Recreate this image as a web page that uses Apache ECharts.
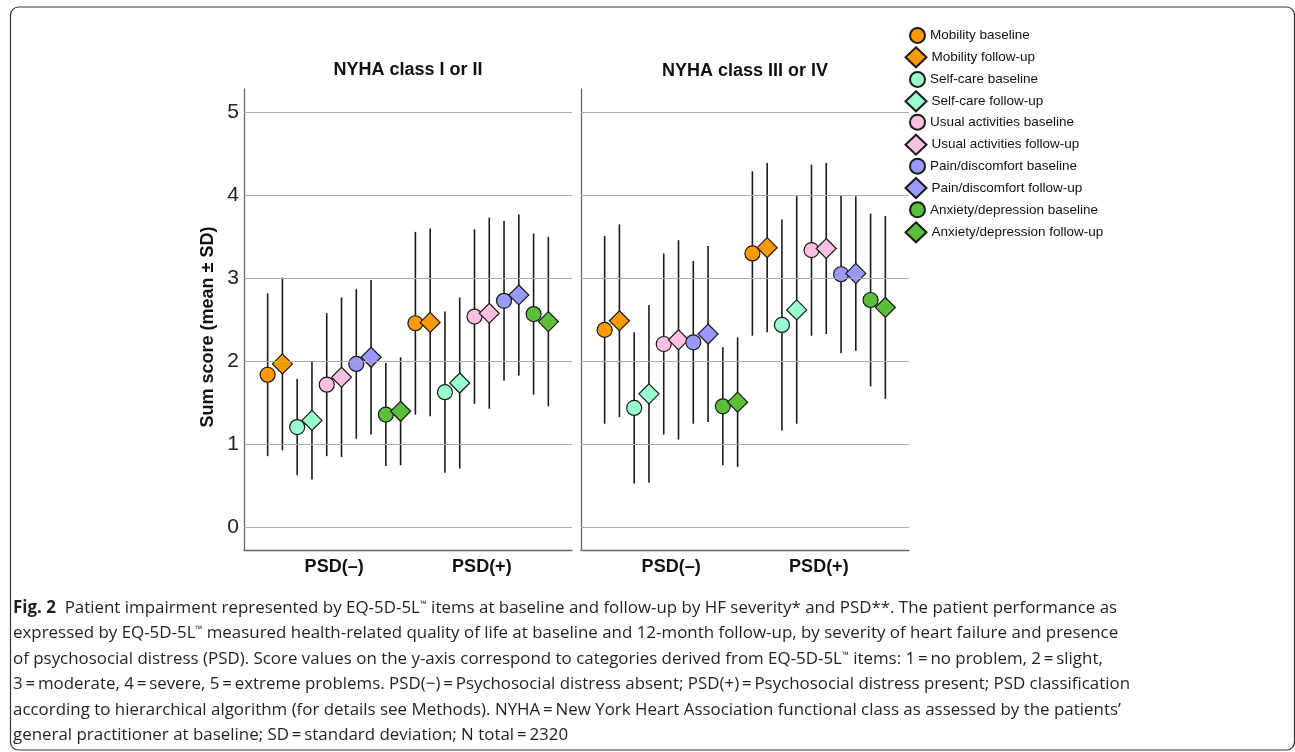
<!DOCTYPE html>
<html><head><meta charset="utf-8">
<script src="https://cdn.jsdelivr.net/npm/echarts@6/dist/echarts.min.js"></script>
<style>html,body{margin:0;padding:0;background:#fff}#c{width:1295px;height:752px}</style>
</head><body><div id="c"></div>
<script>
// ---------------- data ----------------
const categories = ['PSD(–)', 'PSD(+)'];
const panelTitles = ['NYHA class I or II', 'NYHA class III or IV'];
const items = ['Mobility', 'Self-care', 'Usual activities', 'Pain/discomfort', 'Anxiety/depression'];
const timepoints = ['baseline', 'follow-up'];
const yTicks = [0, 1, 2, 3, 4, 5];

// each row: one item, [PSD(–), PSD(+)]
const nyha12BaselineMean = [[1.84, 2.46], [1.21, 1.63], [1.72, 2.54], [1.97, 2.73], [1.36, 2.57]];
const nyha12FollowupMean = [[1.97, 2.47], [1.29, 1.74], [1.81, 2.58], [2.05, 2.80], [1.40, 2.48]];
const nyha12BaselineSD   = [[0.98, 1.10], [0.58, 0.97], [0.86, 1.05], [0.90, 0.96], [0.62, 0.97]];
const nyha12FollowupSD   = [[1.04, 1.13], [0.71, 1.03], [0.96, 1.15], [0.93, 0.97], [0.65, 1.02]];
const nyha34BaselineMean = [[2.38, 3.30], [1.44, 2.44], [2.21, 3.34], [2.23, 3.05], [1.46, 2.74]];
const nyha34FollowupMean = [[2.49, 3.37], [1.61, 2.62], [2.26, 3.36], [2.33, 3.06], [1.51, 2.65]];
const nyha34BaselineSD   = [[1.13, 0.99], [0.91, 1.27], [1.09, 1.03], [0.98, 0.95], [0.71, 1.04]];
const nyha34FollowupSD   = [[1.16, 1.02], [1.07, 1.37], [1.20, 1.03], [1.06, 0.93], [0.78, 1.10]];

const captionLines = [
  '{b|Fig. 2}  Patient impairment represented by EQ-5D-5L{s|™} items at baseline and follow-up by HF severity* and PSD**. The patient performance as',
  'expressed by EQ-5D-5L{s|™} measured health-related quality of life at baseline and 12-month follow-up, by severity of heart failure and presence',
  'of psychosocial distress (PSD). Score values on the y-axis correspond to categories derived from EQ-5D-5L{s|™} items: 1\u2009=\u2009no problem, 2\u2009=\u2009slight,',
  '3\u2009=\u2009moderate, 4\u2009=\u2009severe, 5\u2009=\u2009extreme problems. PSD(\u2212)\u2009=\u2009Psychosocial distress absent; PSD(+)\u2009=\u2009Psychosocial distress present; PSD classification',
  'according to hierarchical algorithm (for details see Methods). NYHA\u2009=\u2009New York Heart Association functional class as assessed by the patients\u2019',
  'general practitioner at baseline; SD\u2009=\u2009standard deviation; N total\u2009=\u20092320'
];

// ---------------- styles / layout ----------------
const itemColors = ['#FF9900', '#99FFCC', '#FFBFE0', '#9999FF', '#5CBF3A'];
const FONT = '"Liberation Sans", Arial, sans-serif';
const means = [[nyha12BaselineMean, nyha12FollowupMean], [nyha34BaselineMean, nyha34FollowupMean]];
const sds = [[nyha12BaselineSD, nyha12FollowupSD], [nyha34BaselineSD, nyha34FollowupSD]];
const slotStep = 0.1;
const gridLefts = [244, 581];

function slotX(ci, i, t) { return ci + (i * 2 + t - 4.5) * slotStep; }

const grids = gridLefts.map(l => ({ left: l, top: 89, width: 328, height: 461 }));
const xAxes = gridLefts.map((l, p) => ({
  type: 'value', gridIndex: p, min: -0.61, max: 1.61, position: 'bottom',
  axisLine: { show: true, onZero: false, lineStyle: { color: '#666', width: 1.3 } },
  axisTick: { show: false }, splitLine: { show: false },
  axisLabel: { customValues: categories.map((c, i) => i), formatter: v => categories[Math.round(v)],
    fontSize: 18, fontWeight: 'bold', color: '#111', margin: 8, fontFamily: FONT }
}));
const yAxes = gridLefts.map((l, p) => ({
  type: 'value', gridIndex: p, min: -0.27, max: 5.28, position: 'left',
  axisLine: { show: true, onZero: false, lineStyle: { color: '#666', width: 1.3 } },
  axisTick: { show: false }, splitLine: { show: false },
  axisLabel: { show: p === 0, customValues: yTicks, fontSize: 21, color: '#222', margin: 5, fontFamily: FONT }
}));

const series = [];
for (let p = 0; p < 2; p++) {
  // grid lines
  series.push({
    type: 'scatter', xAxisIndex: p, yAxisIndex: p, data: [], z: 1, silent: true,
    markLine: { silent: true, symbol: ['none', 'none'], label: { show: false }, animation: false,
      lineStyle: { color: '#ababab', width: 1, type: 'solid' }, emphasis: { disabled: true },
      data: yTicks.map(v => ({ yAxis: v })) }
  });
  // error bars
  const ebData = [];
  for (let ci = 0; ci < categories.length; ci++)
    for (let i = 0; i < items.length; i++)
      for (let t = 0; t < 2; t++) {
        const m = means[p][t][i][ci], s = sds[p][t][i][ci];
        ebData.push([slotX(ci, i, t), m - s, m + s]);
      }
  series.push({
    type: 'custom', xAxisIndex: p, yAxisIndex: p, z: 2, silent: true, data: ebData,
    encode: { x: 0, y: [1, 2] },
    renderItem: (params, api) => {
      const a = api.coord([api.value(0), api.value(1)]);
      const b = api.coord([api.value(0), api.value(2)]);
      return { type: 'line', shape: { x1: a[0], y1: a[1], x2: b[0], y2: b[1] },
        style: { stroke: '#1a1a1a', lineWidth: 1.6 } };
    }
  });
  // markers
  for (let i = 0; i < items.length; i++)
    for (let t = 0; t < 2; t++) {
      series.push({
        type: 'scatter', name: items[i] + ' ' + timepoints[t], xAxisIndex: p, yAxisIndex: p, z: 3,
        symbol: t === 0 ? 'circle' : 'diamond', symbolSize: t === 0 ? 15 : 20,
        itemStyle: { color: itemColors[i], borderColor: '#1a1a1a', borderWidth: 1.2, opacity: 1 },
        emphasis: { disabled: true },
        data: categories.map((c, ci) => [slotX(ci, i, t), means[p][t][i][ci]])
      });
    }
}

// legends
const legendCenters = [35, 54.3, 79, 98.3, 121.7, 141.7, 165.7, 185, 209.3, 229.3];
const legends = [];
for (let i = 0; i < items.length; i++)
  for (let t = 0; t < 2; t++) {
    const k = i * 2 + t;
    const w = t === 0 ? 15 : 21, h = t === 0 ? 15 : 20;
    legends.push({
      data: [items[i] + ' ' + timepoints[t]], icon: t === 0 ? 'circle' : 'diamond',
      left: t === 0 ? 909 : 904.5, top: legendCenters[k] - 8, itemWidth: w, itemHeight: h,
      padding: 0, selectedMode: false, itemGap: 0,
      textStyle: { fontSize: 13.5, color: '#111', fontFamily: FONT }
    });
  }

// caption scaling
const capFontSize = 17;
const capFamily = '"Open Sans", "Noto Sans", sans-serif';
const mctx = document.createElement('canvas').getContext('2d');
mctx.font = capFontSize + 'px ' + capFamily;
const plain4 = captionLines[3].replace(/\{[a-z]+\|([^}]*)\}/g, '$1');
const capScale = 1117 / mctx.measureText(plain4).width;
const capCenters = [608, 633.5, 659, 684.5, 710, 735.5];

const graphic = [
  { type: 'rect', shape: { x: 10.5, y: 7, width: 1284, height: 743, r: 8 }, silent: true,
    style: { fill: 'none', stroke: '#333', lineWidth: 1.2 } },
  { type: 'text', x: 408, y: 70.5, silent: true, style: { text: panelTitles[0], align: 'center', verticalAlign: 'middle',
    font: 'bold 18px ' + FONT, fill: '#111' } },
  { type: 'text', x: 745, y: 71, silent: true, style: { text: panelTitles[1], align: 'center', verticalAlign: 'middle',
    font: 'bold 18px ' + FONT, fill: '#111' } },
  { type: 'text', x: 208, y: 327, rotation: Math.PI / 2, silent: true, style: { text: 'Sum score (mean ± SD)',
    align: 'center', verticalAlign: 'middle', font: 'bold 18px ' + FONT, fill: '#111' } },
  { type: 'group', x: 13, y: 0, scaleX: capScale, silent: true,
    children: captionLines.map((ln, k) => ({
      type: 'text', x: 0, y: capCenters[k], silent: true,
      style: { text: ln, verticalAlign: 'middle', align: 'left', fontSize: capFontSize, fontFamily: capFamily, fill: '#231f20',
        rich: { b: { fontWeight: 'bold', fontSize: capFontSize, fontFamily: capFamily, fill: '#231f20' },
                s: { fontSize: 9, fontFamily: capFamily, verticalAlign: 'top', fill: '#231f20' } } }
    })) }
];

const chart = echarts.init(document.getElementById('c'), null, { renderer: 'canvas' });
chart.setOption({
  backgroundColor: '#fff', animation: false,
  textStyle: { fontFamily: FONT },
  grid: grids, xAxis: xAxes, yAxis: yAxes, legend: legends, series: series, graphic: graphic
});
</script></body></html>
